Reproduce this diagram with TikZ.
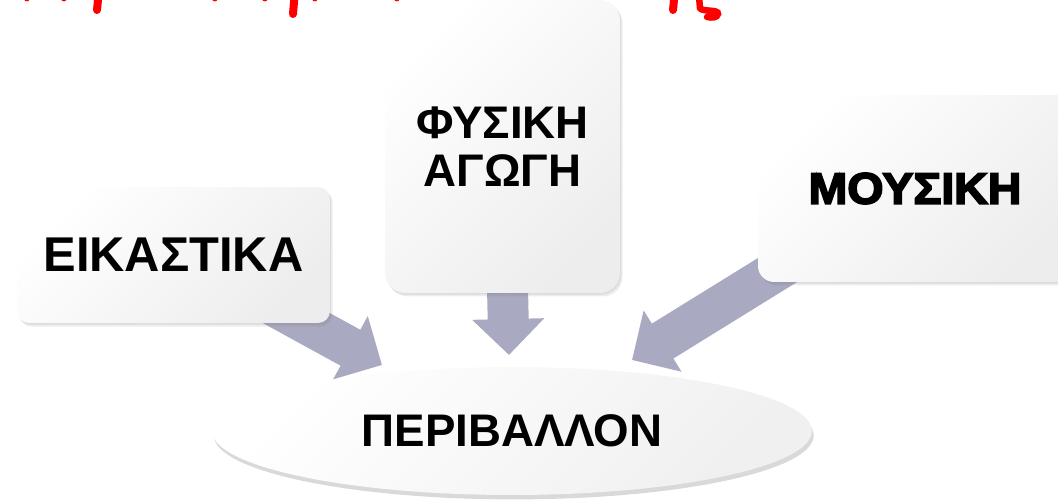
\documentclass[tikz,border=0pt]{standalone}
\usepackage{fontspec}
\setmainfont{Liberation Sans}
\newfontfamily\heavyfont[FakeBold=4,FakeStretch=1.06]{Liberation Sans Bold}
\usetikzlibrary{shapes.geometric, arrows.meta, positioning, shadows, calc}
\definecolor{arrowgray}{HTML}{A9A9C1}
\definecolor{titlered}{HTML}{FF0000}
\pgfdeclarelayer{back}
\pgfsetlayers{back,main}

\tikzset{
  card/.style={rectangle, rounded corners=#1, top color=white, bottom color=black!7, shading angle=45,
    align=center, inner sep=0pt,
    drop shadow={shadow xshift=1.5pt, shadow yshift=-2pt, opacity=0.15},
    drop shadow={shadow xshift=0.7pt, shadow yshift=-1pt, opacity=0.15}},
  flow/.style={line width=0.82cm, draw=arrowgray, -{Triangle[length=0.72cm, width=1.4cm]}},
  redbit/.style={titlered, line width=0.16cm, line cap=round}
}

\begin{document}
\begin{tikzpicture}[x=0.02cm, y=-0.02cm]
\useasboundingbox (0,0) rectangle (1058,500);
\clip (0,0) rectangle (1058,500);

% cut-off title (only the lower ends of the letters remain)
\foreach \x/\len in {97/14, 293/18, 673/14}
  \draw[redbit] (\x+2,-10) -- (\x,\len-4);
\foreach \x in {25, 62, 213, 263, 313, 395}
  \draw[redbit, line width=0.1cm] (\x-4,-6) -- (\x+2,-1);
\draw[redbit, line width=0.13cm] (699,-4) -- (700,8) .. controls (701,12) and (719,9) .. (718,14) .. controls (717,18) and (712,18) .. (707,17);

% boxes
\node[card=0.24cm, minimum width=6.26cm, minimum height=2.72cm, font=\bfseries\fontsize{27.8}{30}\selectfont] (eikastika) at (173.5,255) {ΕΙΚΑΣΤΙΚΑ};
\node[card=0.4cm, minimum width=4.7cm, minimum height=5.86cm, font=\bfseries\fontsize{26}{27.2}\selectfont] (fysiki) at (502.5,146.5) {ΦΥΣΙΚΗ\\ΑΓΩΓΗ};
\node[card=0.32cm, minimum width=6.28cm, minimum height=3.74cm, font=\heavyfont\fontsize{25}{27}\selectfont] (mousiki) at (915,188.5) {ΜΟΥΣΙΚΗ};
\node[ellipse, top color=white, bottom color=black!6, shading angle=45, inner sep=0pt,
  minimum width=12cm, minimum height=2.56cm, font=\bfseries\fontsize{26}{28}\selectfont,
  drop shadow={shadow xshift=1pt, shadow yshift=-2.5pt, opacity=0.3}] (perivallon) at (512,431) {ΠΕΡΙΒΑΛΛΟΝ};

\coordinate (tipL) at (382,365);
\coordinate (tipM) at (509,355);
\coordinate (tipR) at (632,360);

% arrows behind the boxes
\begin{pgfonlayer}{back}
\draw[flow] ($(eikastika.south east)+(-70,-25)$) -- (tipL);
\draw[flow] ($(fysiki.south)+(5,-5)$) -- (tipM);
\draw[flow] ($(mousiki.south west)+(42,-26)$) -- (tipR);
\end{pgfonlayer}
\end{tikzpicture}
\end{document}
